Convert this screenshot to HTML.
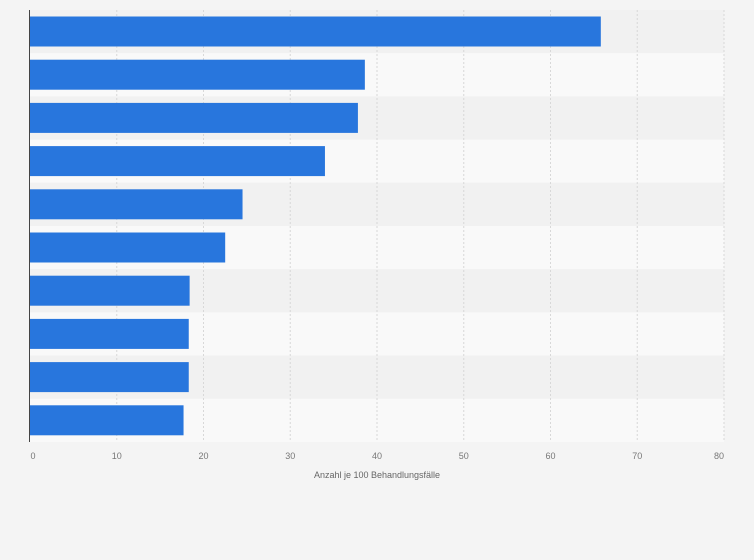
<!DOCTYPE html>
<html><head><meta charset="utf-8"><style>
body{margin:0;background:#f4f4f4;font-family:"Liberation Sans",sans-serif}
svg{display:block}
</style></head><body>
<svg id="chart" width="754" height="560" xmlns="http://www.w3.org/2000/svg">
<rect width="754" height="560" fill="#f4f4f4"/>
<g id="bands"></g><g id="grid"></g><g id="bars"></g><g id="ticks"></g>
<line x1="29.5" y1="10" x2="29.5" y2="442" stroke="#444" stroke-width="1"/>
<text x="377" y="478" font-size="9" fill="#666" text-anchor="middle">Anzahl je 100 Behandlungsfälle</text>
</svg>
<script>
const categories=["Kategorie 1","Kategorie 2","Kategorie 3","Kategorie 4","Kategorie 5","Kategorie 6","Kategorie 7","Kategorie 8","Kategorie 9","Kategorie 10"];
const values=[65.8,38.6,37.8,34.0,24.5,22.5,18.4,18.3,18.3,17.7];
const tickLabels=[0,10,20,30,40,50,60,70,80];
const NS="http://www.w3.org/2000/svg";
const plotX0=30,plotX1=724,plotTop=10,plotBottom=442,xMax=80;
const xs=v=>plotX0+(plotX1-plotX0)*v/xMax;
const rowH=(plotBottom-plotTop)/categories.length;
function mk(tag,attrs,parent){const e=document.createElementNS(NS,tag);for(const k in attrs)e.setAttribute(k,attrs[k]);parent.appendChild(e);return e;}
const bands=document.getElementById('bands'),grid=document.getElementById('grid'),bars=document.getElementById('bars'),ticks=document.getElementById('ticks');
categories.forEach((c,i)=>{
  const b=mk('rect',{x:plotX0,y:plotTop+i*rowH,width:plotX1-plotX0,height:rowH,fill:i%2?'#f9f9f9':'#f1f1f1'},bands);
  
  
});
tickLabels.forEach(t=>{
  if(t>0){const l=mk('line',{x1:xs(t),y1:plotTop,x2:xs(t),y2:plotBottom,stroke:'#d8d8d8','stroke-dasharray':'2,2'},grid);
  
  }
  const tx=mk('text',{x:xs(t)+(t===0?3:t===80?-5:0),y:459,'font-size':9,fill:'#777','text-anchor':'middle'},ticks);
  tx.textContent=t;
  
  
});
values.forEach((v,i)=>{
  const r=mk('rect',{x:plotX0,y:plotTop+i*rowH+6.5,width:xs(v)-plotX0,height:30,fill:'#2876dd'},bars);
  
  
  const tt=mk('title',{},r);tt.textContent=categories[i]+': '+v;
});
</script>
</body></html>
